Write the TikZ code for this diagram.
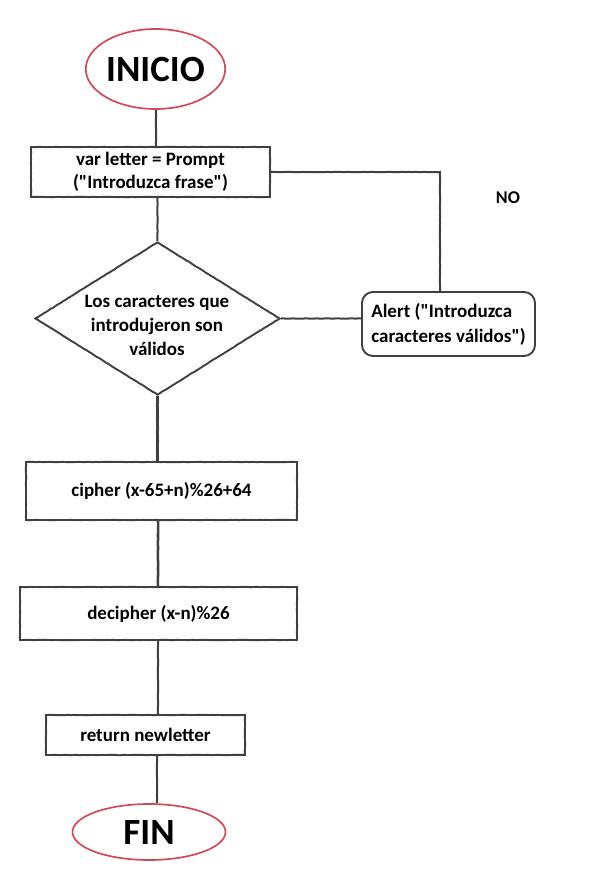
\documentclass[tikz,border=0pt]{standalone}
\usepackage{fontspec}
\setmainfont{Carlito}[Ligatures=TeXOff]
\usetikzlibrary{shapes.geometric,decorations.pathmorphing}
\definecolor{pencil}{HTML}{404040}
\definecolor{redpen}{HTML}{D2495A}
\tikzset{
  sketch/.style={draw=pencil, line width=1.9pt},
  rough/.style={decorate, decoration={random steps, segment length=3pt, amplitude=0.2pt}},
  boxnode/.style={rectangle, sketch, rough, inner sep=0pt, font=\fontsize{19}{23}\selectfont\bfseries, align=center},
  termnode/.style={ellipse, draw=redpen, line width=1.7pt, inner sep=0pt, font=\fontsize{37}{40}\selectfont\bfseries},
  link/.style={sketch, rough, line width=2pt}
}
\begin{document}
\begin{tikzpicture}[x=1pt,y=1pt]
\useasboundingbox (0,0) rectangle (595,-869);
\node[termnode, minimum width=133pt, minimum height=80pt] (ini) at (155.5,-69) {INICIO};
\node[boxnode, minimum width=239pt, minimum height=50pt] (prompt) at (150.5,-172) {var letter = Prompt\\("Introduzca frase")};
\node[diamond, sketch, rough, inner sep=0pt, minimum width=245pt, minimum height=153pt, aspect=1.6] (dia) at (157.5,-318.5) {};
\node[font=\fontsize{19}{24}\selectfont\bfseries, align=center] (diatext) at (157,-325) {Los caracteres que\\introdujeron son\\válidos};
\node[rectangle, sketch, rounded corners=11pt, inner sep=0pt, minimum width=173pt, minimum height=64pt, font=\fontsize{19}{25}\selectfont\bfseries, align=left] (alert) at (448.5,-324) {Alert ("Introduzca\\caracteres válidos")};
\node[font=\fontsize{18}{20}\selectfont\bfseries] (no) at (508,-198) {NO};
\node[boxnode, minimum width=271pt, minimum height=58pt] (cipher) at (161.5,-491) {cipher (x-65+n)\%26+64};
\node[boxnode, minimum width=277pt, minimum height=53pt] (decipher) at (158.5,-613.5) {decipher (x-n)\%26};
\node[boxnode, minimum width=199pt, minimum height=40pt] (ret) at (145.5,-735) {return newletter};
\node[termnode, minimum width=153pt, minimum height=56pt] (fin) at (149,-832) {FIN};
\coordinate (turn) at (440,-172);
\coordinate (c0) at (156,0);
\coordinate (c1) at (158,0);
\coordinate (c2) at (157,0);
\draw[link] (ini.south -| c0) -- (prompt.north -| c0);
\draw[link] (prompt.south -| dia.north) -- (dia.north);
\draw[link] (prompt.east) -- (turn) -- (turn |- alert.north);
\draw[link] (dia.east) -- (dia.east -| alert.west);
\draw[link, line width=2.8pt] (dia.south) -- (dia.south |- cipher.north);
\draw[link, line width=2.6pt] (cipher.south -| c1) -- (decipher.north -| c1);
\draw[link] (decipher.south -| c1) -- (ret.north -| c1);
\draw[link] (ret.south -| c2) -- (fin.north -| c2);
\end{tikzpicture}
\end{document}
